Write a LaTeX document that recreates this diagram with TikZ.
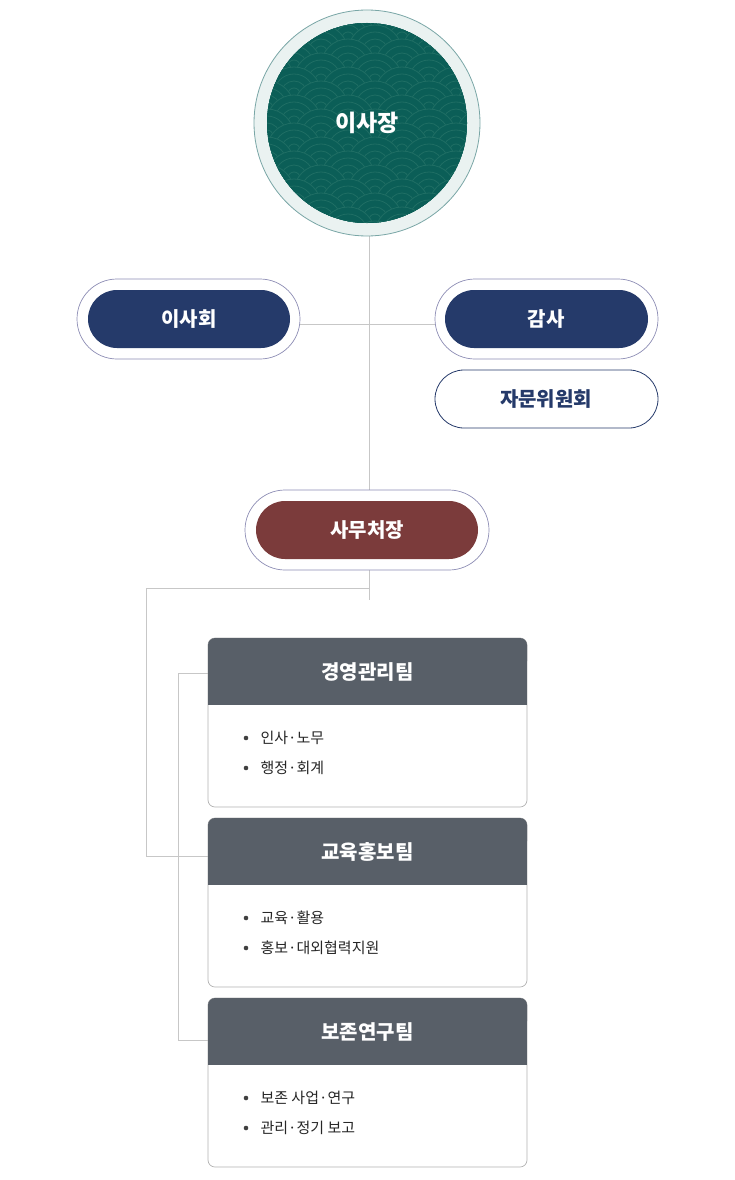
\documentclass[tikz,border=0pt]{standalone}
\usepackage{fontspec}
\setmainfont{Noto Sans CJK KR}
\begin{document}
\begin{tikzpicture}[x=1pt,y=-1pt,
  line/.style={draw=black!22,line width=0.9pt},
  pillout/.style={draw=blue!35!black!45,fill=white,rounded corners=40pt,line width=0.7pt},
  pillin/.style={fill=navy,rounded corners=29pt},
  ptxt/.style={text=white,font=\fontsize{20}{24}\selectfont\bfseries},
  box/.style={draw=black!30,fill=white,rounded corners=7pt,line width=0.7pt},
  head/.style={fill=slate},
  htxt/.style={text=white,font=\fontsize{20}{24}\selectfont\bfseries},
  item/.style={anchor=west,font=\fontsize{15}{18}\selectfont,text=black!85}]
\definecolor{navy}{HTML}{253A6A}
\definecolor{teal0}{HTML}{0B5E57}
\definecolor{tealp}{HTML}{1F6E64}
\definecolor{wine}{HTML}{7B3B3B}
\definecolor{slate}{HTML}{585F68}
\definecolor{ring}{HTML}{EAF2F1}
\useasboundingbox (0,0) rectangle (735,1180);
% lines
\coordinate (t1) at (369,236); \coordinate (t2) at (369,490);
\draw[line] (t1) -- (t2);
\coordinate (h1) at (300,324); \coordinate (h2) at (435,324);
\draw[line] (h1) -- (h2);
\coordinate (s1) at (369,570); \coordinate (s2) at (369,600); \coordinate (s3) at (369,588);
\coordinate (l1) at (146,588); \coordinate (l2) at (146,856); \coordinate (l3) at (208,856);
\draw[line] (s1) -- (s2); \draw[line] (s3) -- (l1) -- (l2) -- (l3);
\coordinate (m1) at (208,673); \coordinate (m2) at (178,673); \coordinate (m3) at (178,1040); \coordinate (m4) at (208,1040);
\draw[line] (m1) -- (m2) -- (m3) -- (m4);
% top circle
\node[circle,minimum size=226pt,draw=teal!50!gray!70,fill=ring,line width=0.8pt,inner sep=0] (top) at (367,123) {};
\begin{scope}
\clip (367,123) circle (100);
\fill[teal0] (367,123) circle (100);
\foreach \r in {0,...,18}{
  \pgfmathsetmacro{\yy}{10+\r*14}
  \pgfmathsetmacro{\off}{mod(\r,2)*27}
  \foreach \c in {0,...,6}{
    \pgfmathsetmacro{\xx}{240+\off+\c*54}
    \fill[teal0] (\xx,\yy) circle (27);
    \foreach \rr in {27,20,13,6}{\draw[tealp,line width=0.8pt] (\xx,\yy) circle (\rr);}
  }
}
\end{scope}
\node[ptxt,font=\fontsize{23}{26}\selectfont\bfseries] (ceo) at (367,123) {이사장};
% pills
\draw[pillout] (77,279) rectangle (300,359);
\fill[pillin] (88,290) rectangle (290,348);
\node[ptxt] (bd) at (189,319) {이사회};
\draw[pillout] (435,279) rectangle (658,359);
\fill[pillin] (445,290) rectangle (648,348);
\node[ptxt] (au) at (546,319) {감사};
\draw[draw=navy,fill=white,rounded corners=29pt,line width=0.8pt] (435,370) rectangle (658,428);
\node[ptxt,text=navy] (adv) at (546,399) {자문위원회};
\draw[pillout] (245,490) rectangle (489,570);
\fill[pillin,fill=wine] (256,501) rectangle (478,559);
\node[ptxt] (sg) at (367,530) {사무처장};
% teams
\foreach \y/\t/\a/\b in {638/경영관리팀/인사·노무/행정·회계, 818/교육홍보팀/교육·활용/홍보·대외협력지원, 998/보존연구팀/보존 사업·연구/관리·정기 보고}{
  \draw[box] (208,\y) rectangle (527,\y+169);
  \fill[head,rounded corners=7pt] (208,\y) rectangle (527,\y+30);
  \fill[head] (208,\y+15) rectangle (527,\y+67);
  \node[htxt] at (367.5,\y+34) {\t};
  \fill[black!75] (246,\y+100) circle (2.3);
  \node[item] at (257,\y+100) {\a};
  \fill[black!75] (246,\y+130) circle (2.3);
  \node[item] at (257,\y+130) {\b};
}
\end{tikzpicture}
\end{document}
